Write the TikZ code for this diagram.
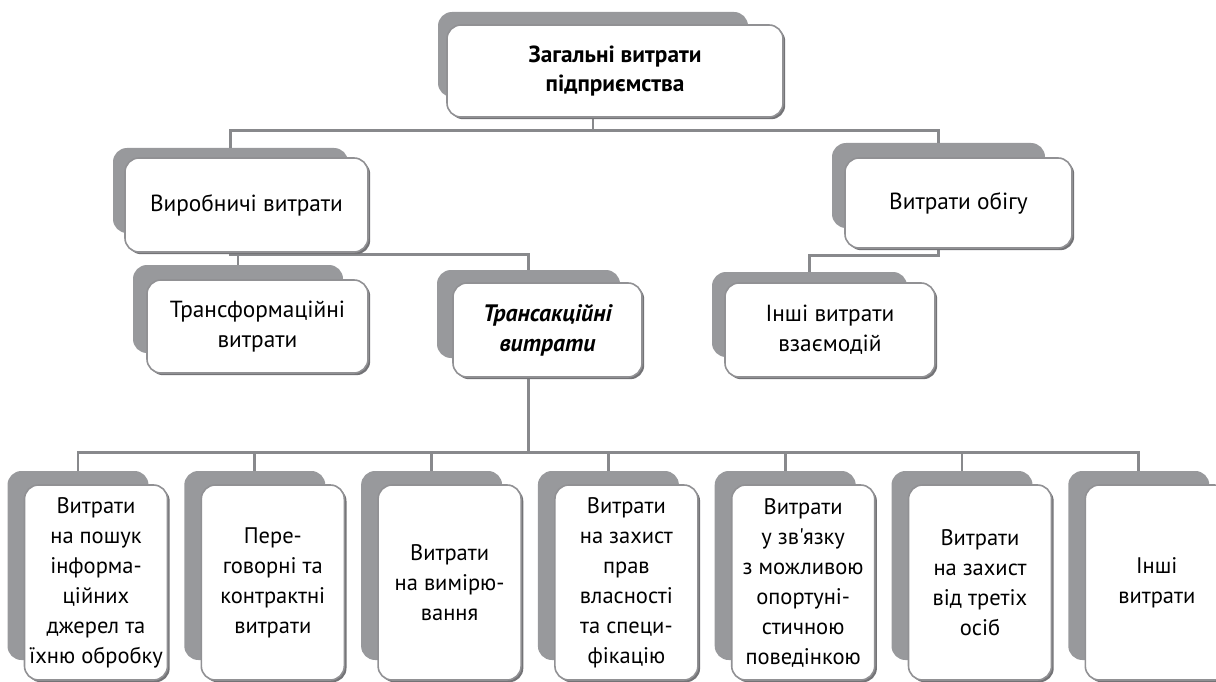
\documentclass[tikz,border=0pt]{standalone}
\usepackage{fontspec}
\setmainfont{PT Sans}[Ligatures=TeXOff]
\usetikzlibrary{shadows}
\pgfdeclarelayer{bg}
\pgfsetlayers{bg,main}
\definecolor{backgray}{RGB}{152,153,156}
\definecolor{linegray}{RGB}{136,137,140}
\definecolor{bordergray}{RGB}{145,145,148}
\definecolor{shgray}{RGB}{115,115,118}
\tikzset{
  whitebox/.style={draw=bordergray, line width=1.6pt, fill=white, rounded corners=14pt,
    inner sep=0pt, align=center, font=\fontsize{23.3}{30}\selectfont,
    drop shadow={shadow xshift=2.2pt, shadow yshift=-2.2pt, fill=shgray, opacity=1}},
  backbox/.style={fill=backgray, rounded corners=14pt, inner sep=0pt},
  conn/.style={draw=linegray, line width=2.8pt},
  botbox/.style={whitebox, minimum width=143pt, minimum height=195pt, font=\fontsize{22.5}{30}\selectfont},
  botback/.style={backbox, minimum width=141pt, minimum height=189pt},
}
\begin{document}
\begin{tikzpicture}[x=1pt, y=-1pt]
\useasboundingbox (0,0) rectangle (1216,682);

% white boxes
\node[whitebox, minimum width=336pt, minimum height=92pt, font=\fontsize{23.3}{29}\selectfont\bfseries] (T) at (615,71) {Загальні витрати\\підприємства};
\node[whitebox, minimum width=243pt, minimum height=94pt] (P) at (246.5,205) {Виробничі витрати};
\node[whitebox, minimum width=227pt, minimum height=90pt] (O) at (958.5,203) {Витрати обігу};
\node[whitebox, minimum width=221pt, minimum height=93pt] (TF) at (257.5,326.5) {Трансформаційні\\витрати};
\node[whitebox, minimum width=189pt, minimum height=94pt, font=\fontsize{23.8}{30}\selectfont\bfseries\itshape] (TA) at (547.5,330) {Трансакційні\\витрати};
\node[whitebox, minimum width=210pt, minimum height=94pt] (I) at (830,330) {Інші витрати\\взаємодій};

\node[botbox] (B1) at (96,582.5) {Витрати\\на пошук\\інформа-\\ційних\\джерел та\\їхню обробку};
\node[botbox] (B2) at (272.8,582.5) {Пере-\\говорні та\\контрактні\\витрати};
\node[botbox] (B3) at (449.6,582.5) {Витрати\\на вимірю-\\вання};
\node[botbox] (B4) at (626.4,582.5) {Витрати\\на захист\\прав\\власності\\та специ-\\фікацію};
\node[botbox] (B5) at (803.2,582.5) {Витрати\\у зв'язку\\з можливою\\опортуні-\\стичною\\поведінкою};
\node[botbox] (B6) at (980,582.5) {Витрати\\на захист\\від третіх\\осіб};
\node[botbox] (B7) at (1156.8,582.5) {Інші\\витрати};

\begin{pgfonlayer}{bg}
\node[backbox, minimum width=310pt, minimum height=85pt] (Tb) at (593,54.5) {};
\node[backbox, minimum width=235pt, minimum height=85pt] (Pb) at (230.5,190.5) {};
\node[backbox, minimum width=213pt, minimum height=85pt] (Ob) at (938.5,185.5) {};
\node[backbox, minimum width=210pt, minimum height=88pt] (TFb) at (238,309) {};
\node[backbox, minimum width=183pt, minimum height=88pt] (TAb) at (528.5,314) {};
\node[backbox, minimum width=195pt, minimum height=85pt] (Ib) at (809.5,314.5) {};
\node[botback] (B1b) at (78,565.5) {};
\node[botback] (B2b) at (254.8,565.5) {};
\node[botback] (B3b) at (431.6,565.5) {};
\node[botback] (B4b) at (608.4,565.5) {};
\node[botback] (B5b) at (785.2,565.5) {};
\node[botback] (B6b) at (962,565.5) {};
\node[botback] (B7b) at (1138.8,565.5) {};

\draw[conn] (Tb.south) -- ++(0,33) -| (Pb.north);
\draw[conn] (Tb.south) -- ++(0,33) -| (Ob.north);
\draw[conn] (Pb.south) -- ++(0,21) -| (TFb.north);
\draw[conn] (Pb.south) -- ++(0,21) -| (TAb.north);
\draw[conn] (Ob.south) -- ++(0,27) -| (Ib.north);
\foreach \b in {B1b,B2b,B3b,B4b,B5b,B6b,B7b}{
  \draw[conn] (TAb.south) -- ++(0,94) -| (\b.north);
}
\end{pgfonlayer}
\end{tikzpicture}
\end{document}
